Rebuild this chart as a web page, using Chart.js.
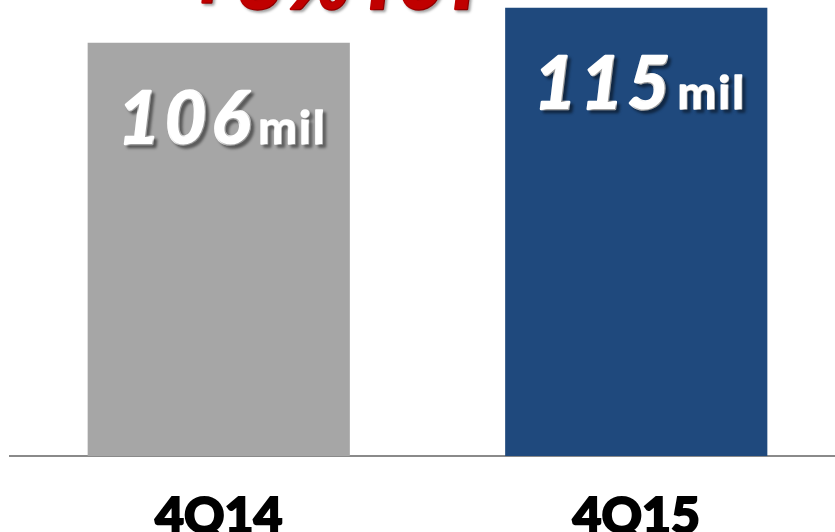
<!DOCTYPE html>
<html>
<head>
<meta charset="utf-8">
<script src="https://cdn.jsdelivr.net/npm/chart.js@4"></script>
<style>
  html, body { margin: 0; padding: 0; background: #fff; overflow: hidden; }
  #wrap { position: relative; width: 845px; height: 532px; }
</style>
</head>
<body>
<div id="wrap"><canvas id="chart"></canvas></div>
<script>
// quarterly figures, in millions
const quarters = ['4Q14', '4Q15'];
const totals = [106, 115];
const barColors = ['#a6a6a6', '#1f497d'];
const unit = 'mil';
const growthText = '+8%YoY';

const heavy = "'Lato Black', Lato";

// fill + thin stroke of the same colour so the type reads extra heavy
function heavyText(ctx, text, x, y, color, stroke) {
  ctx.fillStyle = color;
  ctx.strokeStyle = color;
  ctx.lineWidth = stroke;
  ctx.lineJoin = 'round';
  ctx.strokeText(text, x, y);
  ctx.fillText(text, x, y);
}

// white value inside each bar: big number + small unit, with a drop shadow
const barLabels = {
  id: 'barLabels',
  afterDatasetsDraw(chart) {
    const ctx = chart.ctx;
    const bars = chart.getDatasetMeta(0).data;
    ctx.save();
    ctx.textBaseline = 'alphabetic';
    ctx.textAlign = 'left';
    ctx.shadowColor = 'rgba(0,0,0,0.4)';
    ctx.shadowOffsetX = 3;
    ctx.shadowOffsetY = 3;
    ctx.shadowBlur = 3;
    bars.forEach((bar, i) => {
      const num = String(totals[i]);
      const bigFont = `italic 900 72px ${heavy}`;
      const smallFont = `900 46px ${heavy}`;
      ctx.font = bigFont;
      ctx.letterSpacing = '5px';
      const wNum = ctx.measureText(num).width;
      ctx.font = smallFont;
      ctx.letterSpacing = '2px';
      const wUnit = ctx.measureText(unit).width;
      const total = wNum + 3 + wUnit;
      const x0 = bar.x - total / 2 + 4;
      const base = bar.y + 101;
      ctx.font = bigFont;
      ctx.letterSpacing = '5px';
      heavyText(ctx, num, x0, base, '#fff', 2.5);
      ctx.font = smallFont;
      ctx.letterSpacing = '2px';
      heavyText(ctx, unit, x0 + wNum + 3, base, '#fff', 1.5);
    });
    ctx.restore();
  }
};

// red growth note along the top edge
const growthNote = {
  id: 'growthNote',
  afterDraw(chart) {
    const ctx = chart.ctx;
    ctx.save();
    ctx.font = `italic 900 80px ${heavy}`;
    ctx.letterSpacing = '5px';
    ctx.textAlign = 'center';
    ctx.textBaseline = 'alphabetic';
    ctx.shadowColor = 'rgba(0,0,0,0.3)';
    ctx.shadowOffsetX = 2;
    ctx.shadowOffsetY = 2;
    ctx.shadowBlur = 3;
    heavyText(ctx, growthText, 340, 9, '#c00000', 2.5);
    ctx.restore();
  }
};

new Chart(document.getElementById('chart'), {
  type: 'bar',
  data: {
    labels: quarters,
    datasets: [{
      data: totals,
      backgroundColor: barColors,
      borderWidth: 0,
      barPercentage: 0.628,
      categoryPercentage: 1
    }]
  },
  options: {
    responsive: true,
    maintainAspectRatio: false,
    animation: false,
    layout: { padding: { left: 10, top: 0, right: 0, bottom: 0 } },
    plugins: {
      legend: { display: false },
      tooltip: { enabled: false }
    },
    scales: {
      y: {
        display: false,
        min: 0,
        max: 117
      },
      x: {
        grid: { display: false, drawTicks: false },
        border: { display: true, color: '#8a8a8a', width: 2 },
        ticks: {
          color: '#000',
          padding: 31,
          textStrokeColor: '#000',
          textStrokeWidth: 2,
          font: { family: heavy, weight: 900, size: 50 }
        },
        afterFit(scale) { scale.height = 76; }
      }
    }
  },
  plugins: [barLabels, growthNote]
});
</script>
</body>
</html>
